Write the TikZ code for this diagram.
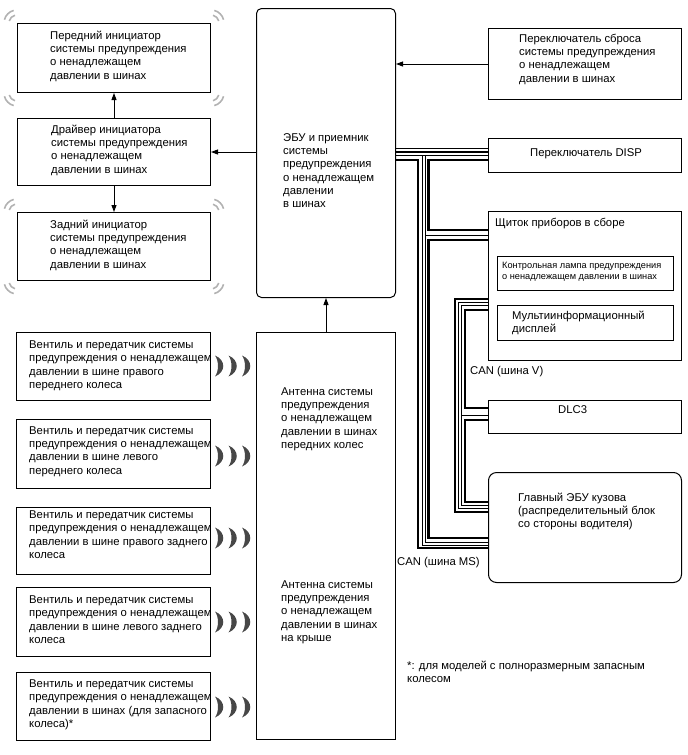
\documentclass[tikz,border=0pt]{standalone}
\usepackage{fontspec}
\setmainfont{Liberation Sans}
\usetikzlibrary{arrows.meta}
\newcommand{\firstln}{\rule{0pt}{10pt}}
\newcommand{\firstsm}{\rule{0pt}{8pt}}
\begin{document}
\begin{tikzpicture}[x=1pt,y=-1pt,
  box/.style={draw, line width=1pt, inner sep=0pt, anchor=north west},
  rbox/.style={box, rounded corners=5pt},
  txt/.style={font=\fontsize{11.3}{13.3}\selectfont, align=left, inner sep=0pt, anchor=north west},
  stxt/.style={font=\fontsize{9.2}{10.7}\selectfont, align=left, inner sep=0pt, anchor=north west},
  arr/.style={line width=0.9pt, -{Triangle[length=7pt,width=5pt]}},
  thinw/.style={line width=0.8pt},
  thickw/.style={line width=2.7pt},
  wave/.style={fill=black!72},
  cmark/.style={draw=black!30, line width=1.6pt},
]
\useasboundingbox (0,0) rectangle (688,755);

% ---- boxes ----
\node[box, minimum width=193pt, minimum height=69pt] (fi) at (17,23) {};
\node[box, minimum width=193pt, minimum height=67pt] (drv) at (17,118) {};
\node[box, minimum width=193pt, minimum height=68pt] (ri) at (17,212) {};
\node[rbox, minimum width=139pt, minimum height=289pt] (ecu) at (256,8) {};
\node[box, minimum width=193pt, minimum height=71pt] (rst) at (488,28) {};
\node[box, minimum width=193pt, minimum height=34pt] (disp) at (488,138) {};
\node[box, minimum width=193pt, minimum height=149pt] (clu) at (488,211) {};
\node[box, minimum width=176pt, minimum height=34pt] (lamp) at (497,256) {};
\node[box, minimum width=176pt, minimum height=35pt] (mfd) at (497,305) {};
\node[box, minimum width=193pt, minimum height=33pt] (dlc) at (488,400) {};
\node[box, rounded corners=8pt, minimum width=193pt, minimum height=110pt] (bcm) at (488,472) {};
\node[box, minimum width=139pt, minimum height=407pt] (ant) at (256,332) {};
\node[box, minimum width=194pt, minimum height=68pt] (t1) at (16,332) {};
\node[box, minimum width=194pt, minimum height=69pt] (t2) at (16,419) {};
\node[box, minimum width=194pt, minimum height=67pt] (t3) at (16,507) {};
\node[box, minimum width=194pt, minimum height=69pt] (t4) at (16,587) {};
\node[box, minimum width=194pt, minimum height=68pt] (t5) at (16,672) {};

% ---- texts ----
\node[txt] (fitx) at (50,29) {\firstln Передний инициатор\\системы предупреждения\\о ненадлежащем\\давлении в шинах};
\node[txt] (drvtx) at (51,123) {\firstln Драйвер инициатора\\системы предупреждения\\о ненадлежащем\\давлении в шинах};
\node[txt] (ritx) at (50,218) {\firstln Задний инициатор\\системы предупреждения\\о ненадлежащем\\давлении в шинах};
\node[txt] (ecutx) at (283,131) {\firstln ЭБУ и приемник\\системы\\предупреждения\\о ненадлежащем\\давлении\\в шинах};
\node[txt] (rsttx) at (519,32) {\firstln Переключатель сброса\\системы предупреждения\\о ненадлежащем\\давлении в шинах};
\node[txt] (disptx) at (530,146) {\firstln Переключатель DISP};
\node[txt] (clutx) at (495,216) {\firstln Щиток приборов в сборе};
\node[stxt] (lamptx) at (502,260.5) {\firstsm Контрольная лампа предупреждения\\о ненадлежащем давлении в шинах};
\node[txt] (mfdtx) at (512,309) {\firstln Мультиинформационный\\дисплей};
\node[txt] (canv) at (470,364) {\firstln CAN (шина V)};
\node[txt] (dlctx) at (558,403) {\firstln DLC3};
\node[txt] (bcmtx) at (518,491) {\firstln Главный ЭБУ кузова\\(распределительный блок\\со стороны водителя)};
\node[txt] (canms) at (397,555) {\firstln CAN (шина MS)};
\node[txt] (ant1tx) at (281,385) {\firstln Антенна системы\\предупреждения\\о ненадлежащем\\давлении в шинах\\передних колес};
\node[txt] (ant2tx) at (281,578) {\firstln Антенна системы\\предупреждения\\о ненадлежащем\\давлении в шинах\\на крыше};
\node[txt] (t1tx) at (29,338.3) {\firstln Вентиль и передатчик системы\\предупреждения о ненадлежащем\\давлении в шине правого\\переднего колеса};
\node[txt] (t2tx) at (29,424) {\firstln Вентиль и передатчик системы\\предупреждения о ненадлежащем\\давлении в шине левого\\переднего колеса};
\node[txt] (t3tx) at (29,508.3) {\firstln Вентиль и передатчик системы\\предупреждения о ненадлежащем\\давлении в шине правого заднего\\колеса};
\node[txt] (t4tx) at (29,593.3) {\firstln Вентиль и передатчик системы\\предупреждения о ненадлежащем\\давлении в шине левого заднего\\колеса};
\node[txt] (t5tx) at (29,677.3) {\firstln Вентиль и передатчик системы\\предупреждения о ненадлежащем\\давлении в шинах (для запасного\\колеса)*};
\node[txt] (foot) at (407,659) {\firstln *: для моделей с полноразмерным запасным\\колесом};

% ---- arrows ----
\draw[arr] (ecu.west |- drv.east) -- (drv.east);
\draw[arr] (drv.north) -- (fi.south);
\draw[arr] (drv.south) -- (ri.north);
\draw[arr] (rst.west) -- (rst.west -| ecu.east);
\draw[arr] (ant.north) -- (ant.north |- ecu.south);

% ---- CAN MS bus ----
\draw[thinw] (ecu.east|-0,148) -- (disp.west|-0,148);
\draw[thickw] (ecu.east|-0,152) -- (disp.west|-0,152);
\draw[thinw] (ecu.east|-0,155.5) -- (disp.west|-0,155.5);
\draw[thickw] (ecu.east|-0,160) -- (418,160) -- (418,548) -- (bcm.west|-0,548);
\draw[thinw] (422,155.5) -- (422,545) -- (bcm.west|-0,545);
\draw[thinw] (425,155.5) -- (425,542) -- (bcm.west|-0,542);
\draw[thinw] (425,235) -- (clu.west|-0,235);
\draw[thickw] (disp.west|-0,160) -- (428.5,160) -- (428.5,230) -- (clu.west|-0,230);
\draw[thickw] (clu.west|-0,240) -- (428.5,240) -- (428.5,538) -- (bcm.west|-0,538);

% ---- CAN V bus ----
\draw[thickw] (clu.west|-0,299) -- (455,299) -- (455,512) -- (bcm.west|-0,512);
\draw[thinw] (clu.west|-0,302.5) -- (458.5,302.5) -- (458.5,508.5) -- (bcm.west|-0,508.5);
\draw[thinw] (clu.west|-0,305.5) -- (461.5,305.5) -- (461.5,505.5) -- (bcm.west|-0,505.5);
\draw[thinw] (461.5,415) -- (dlc.west|-0,415);
\draw[thickw] (clu.west|-0,310) -- (465,310) -- (465,408) -- (dlc.west|-0,408);
\draw[thickw] (dlc.west|-0,420) -- (465,420) -- (465,502) -- (bcm.west|-0,502);

% ---- radio waves ----
\foreach \yy in {366,456,538,622,707}
  \foreach \xx in {215,228.5,242}
    {\fill[wave] (\xx,\yy-10.5) .. controls (\xx+11,\yy-6) and (\xx+11,\yy+6) .. (\xx,\yy+10.5)
       .. controls (\xx+4,\yy+5) and (\xx+4,\yy-5) .. cycle;}

% ---- corner marks of initiators ----
\foreach \bx in {fi,ri}{
  \foreach \rr in {8,13}{
    \draw[cmark] (\bx.north west) ++(105:\rr pt) arc[start angle=105,end angle=165,radius=\rr pt];
    \draw[cmark] (\bx.north east) ++(15:\rr pt) arc[start angle=15,end angle=75,radius=\rr pt];
    \draw[cmark] (\bx.south west) ++(195:\rr pt) arc[start angle=195,end angle=255,radius=\rr pt];
    \draw[cmark] (\bx.south east) ++(285:\rr pt) arc[start angle=285,end angle=345,radius=\rr pt];
  }
}
\end{tikzpicture}
\end{document}
